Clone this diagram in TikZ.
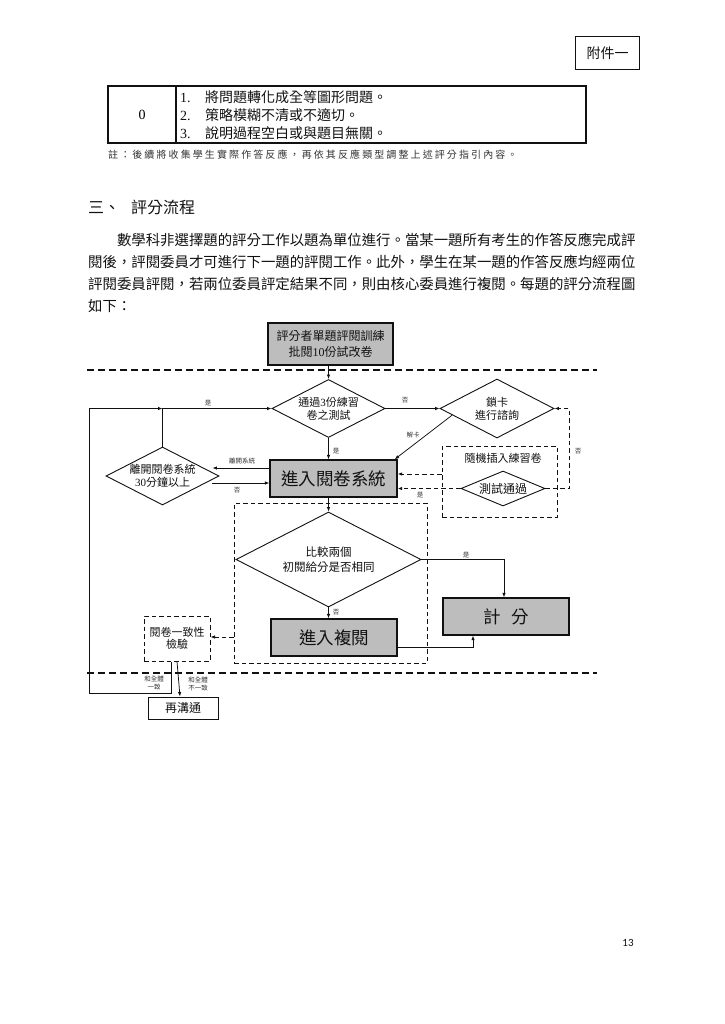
\documentclass[tikz,border=0pt]{standalone}
\usepackage{fontspec}
\setmainfont{Noto Sans CJK TC}
\newfontfamily\tnr{Liberation Serif}
\newfontfamily\pagefont{Carlito}
\usetikzlibrary{arrows.meta,calc,shapes.geometric}
\definecolor{ink}{HTML}{111111}
\definecolor{inksoft}{HTML}{333333}
\definecolor{boxfill}{HTML}{BDBDBD}

\begin{document}
\begin{tikzpicture}[
  x=1pt, y=-1pt,
  >={Latex[length=4.5pt,width=3.5pt]},
  bodytext/.style={text=ink, inner sep=0pt, anchor=west, font=\fontsize{14.4}{17}\selectfont},
  notetext/.style={text=inksoft, inner sep=0pt, anchor=west,
    font=\fontsize{10}{12}\selectfont\addfontfeatures{LetterSpace=21}},
  cell/.style={draw=ink, line width=1.1pt, minimum height=57pt, inner sep=0pt},
  process/.style={draw=ink, fill=boxfill, line width=1.3pt, text=ink, align=center, inner sep=1pt},
  decision/.style={diamond, draw=ink, line width=0.9pt, text=ink, align=center, inner sep=0pt,
    shape aspect=1.95, font=\fontsize{11}{13}\selectfont},
  dashbox/.style={draw=ink, line width=1pt, dash pattern=on 4.5pt off 3pt, text=ink,
    align=center, inner sep=0pt},
  flow/.style={->, draw=ink, line width=0.75pt},
  dashflow/.style={->, draw=ink, line width=1pt, dash pattern=on 4.5pt off 3pt},
  tag/.style={text=inksoft, inner sep=0pt, align=center, font=\fontsize{6.5}{7.5}\selectfont},
  separator/.style={draw=ink, line width=2.4pt, dash pattern=on 7pt off 4pt}
]
\path[use as bounding box, fill=white] (0,0) rectangle (724,1024);

% page head and the table
\node[draw=ink, line width=1.3pt, minimum width=64pt, minimum height=33pt, inner sep=0pt,
  font=\fontsize{14}{16}\selectfont, text=ink] (annex) at (607.5,53) {附件一};

\node[cell, minimum width=68pt, font=\tnr\fontsize{14}{16}\selectfont] (scorecell) at (142,114.5) {0};
\node[cell, minimum width=410pt] (critcell) at (381,114.5) {};
\node[bodytext, font=\fontsize{14}{16}\selectfont] (crit1) at (180,97) {\makebox[25pt][l]{\tnr 1.}將問題轉化成全等圖形問題。};
\node[bodytext, font=\fontsize{14}{16}\selectfont] (crit2) at (180,115) {\makebox[25pt][l]{\tnr 2.}策略模糊不清或不適切。};
\node[bodytext, font=\fontsize{14}{16}\selectfont] (crit3) at (180,133) {\makebox[25pt][l]{\tnr 3.}說明過程空白或與題目無關。};
\node[notetext] (note) at (108,155) {註：後續將收集學生實際作答反應，再依其反應類型調整上述評分指引內容。};

% section text
\node[bodytext, font=\fontsize{16}{18}\selectfont] (heading) at (88,207) {三、\hspace{11pt}評分流程};
\node[bodytext] (para1) at (116.8,240) {數學科非選擇題的評分工作以題為單位進行。當某一題所有考生的作答反應完成評};
\node[bodytext] (para2) at (88,262) {閱後，評閱委員才可進行下一題的評閱工作。此外，學生在某一題的作答反應均經兩位};
\node[bodytext] (para3) at (88,284) {評閱委員評閱，若兩位委員評定結果不同，則由核心委員進行複閱。每題的評分流程圖};
\node[bodytext] (para4) at (88,306) {如下：};

% flow chart
\draw[separator] (87,370) -- (597,370);
\draw[separator] (87,673) -- (597,673);

\node[process, minimum width=125pt, minimum height=42pt, font=\fontsize{12}{16}\selectfont] (train) at (330.5,344) {評分者單題評閱訓練\\批閱{\tnr 10}份試改卷};
\node[decision, minimum width=113pt, minimum height=58pt] (pass3) at (328.5,408.5) {通過{\tnr 3}份練習\\卷之測試};
\node[decision, minimum width=114pt, minimum height=59pt] (lockcard) at (497,408.5) {鎖卡\\進行諮詢};
\node[process, minimum width=127pt, minimum height=37pt, font=\fontsize{17.5}{20}\selectfont] (system) at (333.5,478.5) {進入閱卷系統};
\node[decision, minimum width=113pt, minimum height=58pt] (leave) at (162.5,476) {離開閱卷系統\\{\tnr 30}分鐘以上};
\node[dashbox, minimum width=115pt, minimum height=71pt] (randombox) at (499.5,481.5) {};
\node[tag, font=\fontsize{11}{13}\selectfont, text=ink] (randomtitle) at (503,458) {隨機插入練習卷};
\node[decision, minimum width=84pt, minimum height=35pt, shape aspect=2.4, font=\fontsize{12}{14}\selectfont] (testpass) at (503,488.5) {測試通過};
\node[dashbox, minimum width=193pt, minimum height=160pt] (comparebox) at (330.5,583) {};
\node[decision, minimum width=185pt, minimum height=95pt, font=\fontsize{11.5}{15}\selectfont] (compare) at (328.5,559.5) {比較兩個\\初閱給分是否相同};
\node[process, minimum width=126pt, minimum height=37pt, font=\fontsize{17.5}{20}\selectfont] (review) at (334,637.5) {進入複閱};
\node[process, minimum width=126pt, minimum height=37pt, font=\fontsize{17.5}{20}\selectfont] (score) at (506,616.5) {計\hspace{11pt}分};
\node[dashbox, minimum width=66pt, minimum height=45pt, font=\fontsize{11}{12.5}\selectfont] (consist) at (177,638.5) {閱卷一致性\\檢驗};
\node[draw=ink, line width=1pt, minimum width=70pt, minimum height=22pt, inner sep=0pt,
  font=\fontsize{12}{14}\selectfont, text=ink] (recomm) at (183,708) {再溝通};
\coordinate (loopcorner) at (89,693);
\coordinate (leavein) at ($(leave.east)+(-7,-8)$);
\coordinate (leaveout) at ($(leave.east)+(-7,7)$);
\coordinate (reviewout) at ($(review.east)+(0,9.5)$);
\coordinate (randomout) at ($(randombox.west)+(0,-7.5)$);
\coordinate (compareout) at ($(comparebox.west)+(0,54)$);

\draw[flow] (pass3.north |- train.south) -- (pass3.north);
\draw[flow] (pass3.east) -- (lockcard.west);
\draw[flow] ($(lockcard.west)!0.22!(lockcard.south)$) -- ([xshift=-3pt]system.north east);
\draw[flow] (pass3.south) -- (pass3.south |- system.north);
\draw[flow] (system.west |- leavein) -- (leavein);
\draw[flow] (leaveout) -- (leaveout -| system.west);
\draw[flow] (leave.north) |- (pass3.west);
\draw[flow] ([xshift=-6pt]consist.south) |- (loopcorner) |- (leave.north |- pass3.west);
\draw[flow] (consist.south) -- ([xshift=-3pt]recomm.north);
\draw[flow] (compare.north |- system.south) -- (compare.north);
\draw[flow] (compare.south) -- (compare.south |- review.north);
\draw[flow] (compare.east) -| ([xshift=-2pt]score.north);
\draw[flow] (reviewout) -| ([xshift=-33pt]score.south);
\draw[dashflow] (randomout) -- (randomout -| system.east);
\draw[dashflow] (testpass.west) -- (testpass.west -| system.east);
\draw[dashflow] (testpass.east) -| ([xshift=15pt]lockcard.east) -- (lockcard.east);
\draw[dashflow] (compareout) -- (compareout -| consist.east);

\node[tag] (no1) at (405,400) {否};
\node[tag] (unlock) at (413,435) {解卡};
\node[tag] (yes1) at (336,451) {是};
\node[tag] (leavetag) at (242,461) {離開系統};
\node[tag] (no2) at (237,490) {否};
\node[tag] (yes2) at (208,403) {是};
\node[tag] (yes3) at (420,495) {是};
\node[tag] (no3) at (578,451) {否};
\node[tag] (agree) at (154,683) {和全體\\一致};
\node[tag] (disagree) at (198,684) {和全體\\不一致};
\node[tag] (no4) at (336,612) {否};
\node[tag] (yes4) at (466,555) {是};

\node[text=ink, inner sep=0pt, font=\pagefont\fontsize{11}{13}\selectfont] (pagenum) at (628,943) {13};
\end{tikzpicture}
\end{document}
